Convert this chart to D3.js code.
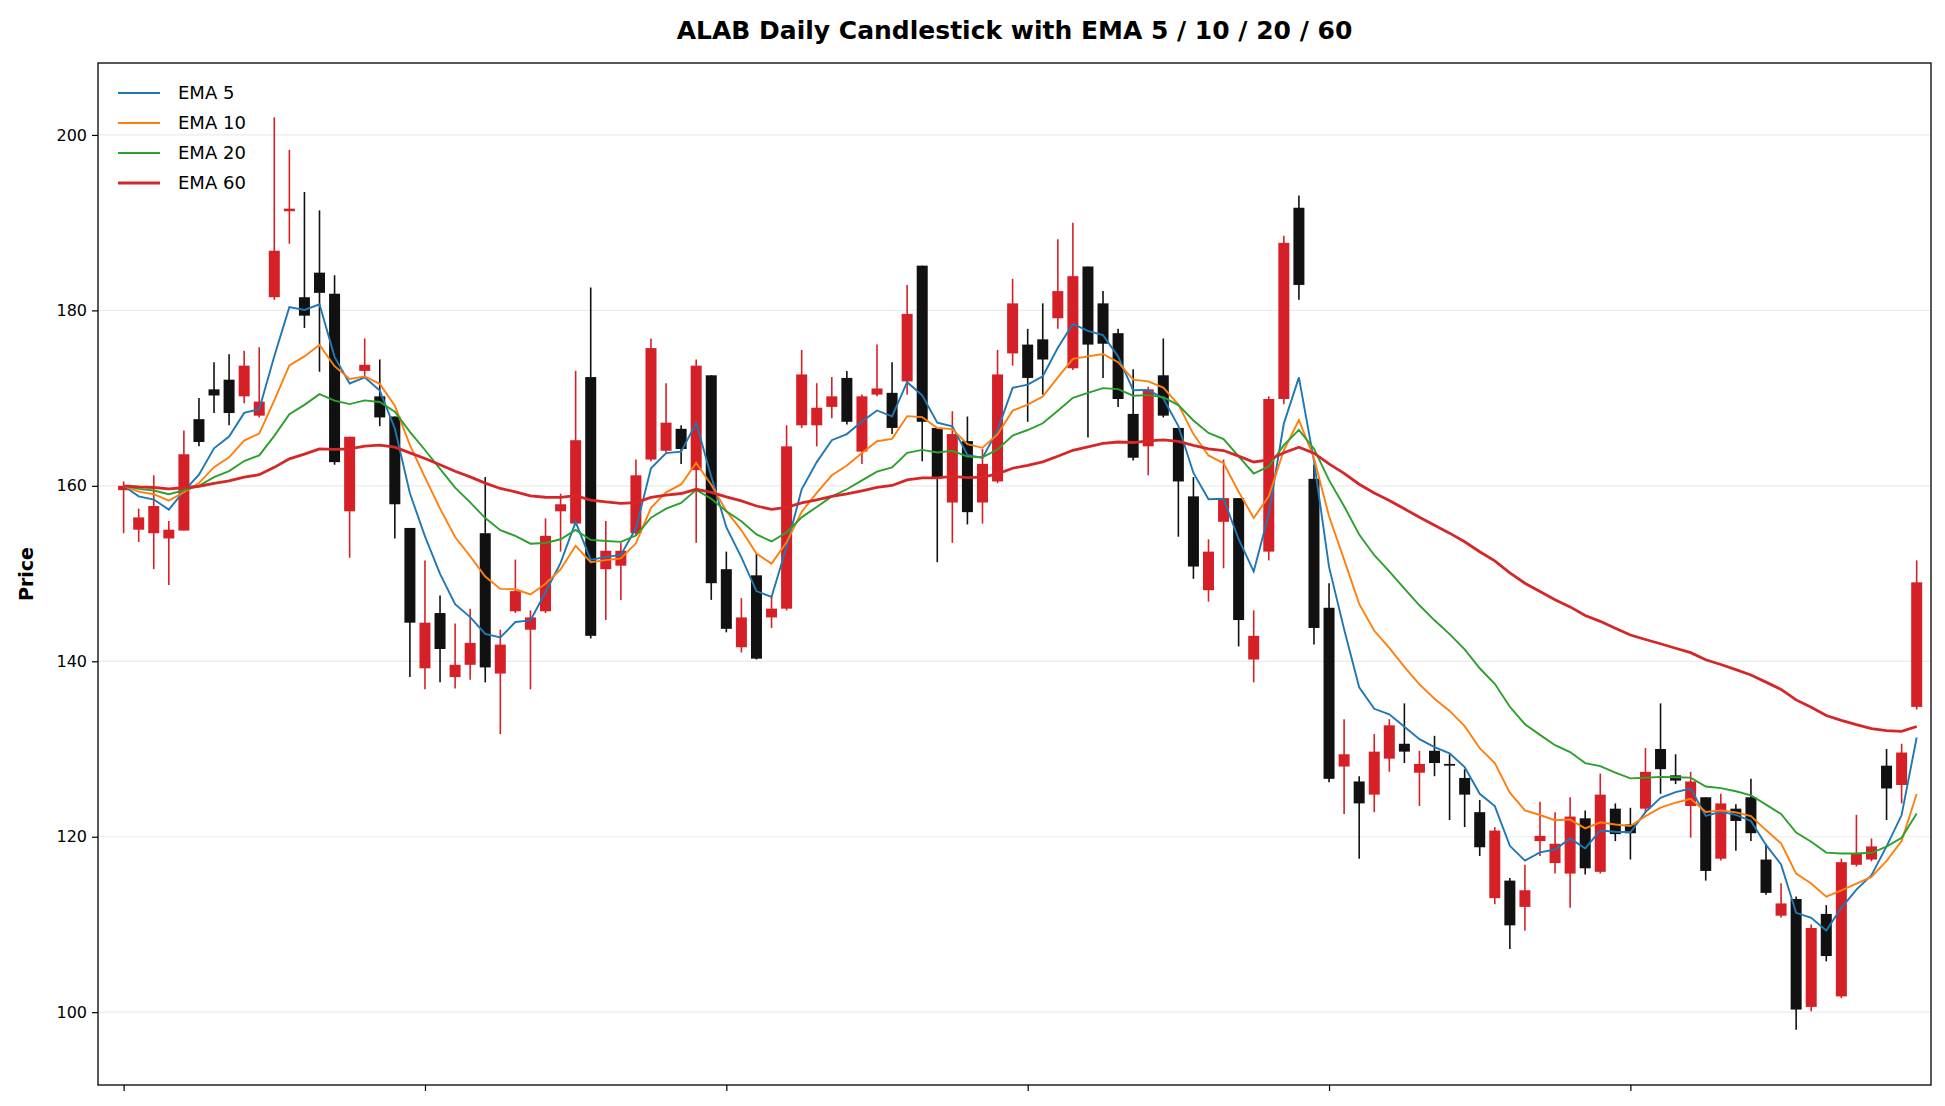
<!DOCTYPE html>
<html>
<head>
<meta charset="utf-8">
<script src="https://cdn.jsdelivr.net/npm/d3@7"></script>
<style>
  body { margin: 0; background: #fff; }
  text { font-family: "DejaVu Sans", sans-serif; }
</style>
</head>
<body>
<svg id="chart" width="1945" height="1106"></svg>
<script>
// daily OHLC
var opens = [159.5,155,154.6,154,154.9,167.6,171,172.1,170.2,168,181.5,191.3,181.5,184.3,181.9,157.1,173.1,170.2,167.9,155.2,
  139.2,145.5,138.2,139.6,154.6,138.6,145.7,143.6,145.7,157.1,155.7,172.4,150.5,150.9,154.6,163,164,166.5,161.8,172.6,
  150.5,141.6,149.8,145,146,166.9,166.9,169,172.3,163.9,170.4,170.6,171.9,185.1,166.6,158.1,165.1,158.1,160.5,175.1,
  176.1,176.7,179.1,173.4,185,180.8,177.4,168.2,164.5,172.6,166.6,158.8,148.1,155.9,158.6,140.2,152.5,169.9,191.7,160.8,
  146.1,128,126.3,124.8,128.9,130.6,127.3,129.8,128.3,126.7,122.8,113,115,112,119.5,117,115.8,122.1,116,123.2,
  121.4,123.2,130,127,123.5,124.5,117.5,123.2,124.5,117.4,111,112.9,100.6,111.2,101.8,116.8,117.4,128.1,125.9,134.8];
var highs = [160.5,157.4,161.2,156,166.3,170,174.1,175,175.4,175.8,202,198.3,193.5,191.4,184,165.6,176.8,174.4,167.9,155.2,
  151.5,147.5,144.3,146,161,143.6,151.6,145.8,156.3,159.1,173.1,182.6,156,153.5,163,176.8,171.7,166.9,174.4,172.6,
  152.5,147.2,152.3,147.5,166.9,175.5,171.7,172.4,173.1,170.4,176.1,174.1,182.9,185.1,166.6,168.5,167.9,164.2,175.5,183.6,
  177.9,180.8,188.1,190,185,182.2,177.9,173.3,171.3,176.8,166.6,161,153.9,163,158.6,145.8,170.2,188.5,193.1,162.4,
  148.9,133.4,126.9,131.7,133.4,135.2,129.8,131.5,129.4,127.7,124.2,121.1,115.3,116.8,124,122.8,124.5,123,127.2,123.8,
  123.3,130.1,135.2,129.4,127.4,124.5,124.9,123.7,126.6,119.2,114.7,113.2,110,112.2,117.5,122.5,119.8,130,130.6,151.5];
var lows = [154.6,153.6,150.5,148.7,154.9,164.5,168.3,166.9,169.4,167.8,181.2,187.6,178,173,162.4,151.8,172.3,166.8,154,138.2,
  136.8,137.6,136.9,137.9,137.6,131.7,145.5,136.8,145.5,152.5,155.5,142.6,144.7,147,154.4,162.8,163.8,162.5,153.5,147,
  143.3,141,140.2,143.8,145.8,166.6,164.5,167.7,167,162.5,170.2,165.9,170.4,162.8,151.3,153.5,155.6,155.7,160.3,173.7,
  167.3,170.4,177.9,173.2,165.5,172.3,169,162.9,161.2,167.8,154.2,149.4,146.8,150.6,141.7,137.6,151.5,169.3,181.2,141.9,
  126.2,122.6,117.5,122.8,127.4,128.4,123.5,126.9,121.9,121.1,117.8,112.3,107.2,109.3,117.8,115.8,111.9,115.7,115.8,119.5,
  117.4,122.8,124.9,126,119.9,115,117.3,118.4,119.5,113.4,110.8,98,100.1,105.8,101.6,116.6,117.2,121.9,123.8,134.5];
var closes = [160,156.4,157.7,155,163.6,165,170.3,168.3,173.7,169.6,186.8,191.6,179.4,182,162.7,165.6,173.8,167.8,157.9,144.4,
  144.4,141.4,139.6,142.1,139.3,141.9,148,145,154.3,157.9,165.2,142.9,152.6,152.6,161.2,175.7,167.2,164.2,173.7,148.9,
  143.7,145,140.3,146,164.5,172.7,168.9,170.2,167.3,170.2,171.1,166.6,179.6,167.3,161,165.9,157,162.5,172.7,180.8,
  172.3,174.4,182.2,183.9,176.1,176.2,169.9,163.2,171,168,160.5,150.8,152.5,158.6,144.7,142.9,169.9,187.7,182.9,143.8,
  126.6,129.4,123.8,129.7,132.7,129.7,128.3,128.4,128.1,124.8,118.8,120.7,109.9,113.9,120.1,119.2,122.3,116.4,124.8,120.3,
  120.4,127.4,127.7,126.4,126.3,116.1,123.8,121.8,120.4,113.6,112.4,100.3,109.6,106.4,117.1,118.1,118.9,125.5,129.6,149];

var emaSpans = [5, 10, 20, 60];
var emaNames = ["EMA 5", "EMA 10", "EMA 20", "EMA 60"];
var emaColors = ["#1f77b4", "#ff7f0e", "#2ca02c", "#d62728"];
var xTicks = [0, 20, 40, 60, 80, 100];
var yTicks = [100, 120, 140, 160, 180, 200];

var svg = d3.select("#chart");
var plotLeft = 98, plotRight = 1931, plotTop = 63, plotBottom = 1085;

var x = d3.scaleLinear().domain([-1.7, 119.95]).range([plotLeft, plotRight]);
var y = d3.scaleLinear().domain([91.7, 208.2]).range([plotBottom, plotTop]);

// grid
svg.append("g").selectAll("line").data(yTicks).enter().append("line")
  .attr("x1", plotLeft).attr("x2", plotRight)
  .attr("y1", function(d) { return y(d); }).attr("y2", function(d) { return y(d); })
  .attr("stroke", "#ebebeb").attr("stroke-width", 1.2);

// candles
var idx = d3.range(closes.length);
var candles = svg.append("g");
candles.selectAll("line").data(idx).enter().append("line")
  .attr("x1", function(i) { return x(i); }).attr("x2", function(i) { return x(i); })
  .attr("y1", function(i) { return y(highs[i]); }).attr("y2", function(i) { return y(lows[i]); })
  .attr("stroke", function(i) { return closes[i] >= opens[i] ? "#d62027" : "#111"; })
  .attr("stroke-width", 1.6);
candles.selectAll("rect").data(idx).enter().append("rect")
  .attr("x", function(i) { return x(i) - 5.5; })
  .attr("width", 11)
  .attr("y", function(i) { return y(Math.max(opens[i], closes[i])); })
  .attr("height", function(i) { return Math.max(1.5, Math.abs(y(opens[i]) - y(closes[i]))); })
  .attr("fill", function(i) { return closes[i] >= opens[i] ? "#d62027" : "#111"; });

// EMA lines computed from closes
function ema(vals, span) {
  var a = 2 / (span + 1), out = [], prev = vals[0];
  vals.forEach(function(v, i) { prev = i == 0 ? v : a * v + (1 - a) * prev; out.push(prev); });
  return out;
}
var line = d3.line().x(function(d, i) { return x(i); }).y(function(d) { return y(d); });
emaSpans.forEach(function(s, k) {
  svg.append("path").datum(ema(closes, s)).attr("d", line)
    .attr("fill", "none").attr("stroke", emaColors[k])
    .attr("stroke-width", s == 60 ? 2.8 : 1.9);
});

// axes
var yAxis = d3.axisLeft(y).tickValues(yTicks).tickSize(6).tickPadding(5);
var gy = svg.append("g").attr("transform", "translate(" + plotLeft + ",0)").call(yAxis);
gy.selectAll("text").attr("font-size", 16).attr("fill", "#000");
var xAxis = d3.axisBottom(x).tickValues(xTicks).tickSize(6).tickFormat("");
svg.append("g").attr("transform", "translate(0," + plotBottom + ")").call(xAxis);
svg.selectAll(".domain").remove();
svg.selectAll(".tick line").attr("stroke", "#000").attr("stroke-width", 1.2);
svg.append("rect").attr("x", plotLeft).attr("y", plotTop)
  .attr("width", plotRight - plotLeft).attr("height", plotBottom - plotTop)
  .attr("fill", "none").attr("stroke", "#000").attr("stroke-width", 1.3);

// title and label
svg.append("text").attr("x", (plotLeft + plotRight) / 2).attr("y", 39).attr("text-anchor", "middle")
  .attr("font-size", 25).attr("font-weight", "bold").text("ALAB Daily Candlestick with EMA 5 / 10 / 20 / 60");
svg.append("text").attr("transform", "translate(33," + (plotTop + plotBottom) / 2 + ") rotate(-90)")
  .attr("text-anchor", "middle").attr("font-size", 19).attr("font-weight", "bold").text("Price");

// legend
var lg = svg.append("g").attr("transform", "translate(118,93)");
emaNames.forEach(function(n, k) {
  lg.append("line").attr("x1", 0).attr("x2", 42).attr("y1", k * 30).attr("y2", k * 30)
    .attr("stroke", emaColors[k]).attr("stroke-width", k == 3 ? 2.8 : 1.9);
  lg.append("text").attr("x", 60).attr("y", k * 30 + 6).attr("font-size", 18).text(n);
});
</script>
</body>
</html>
